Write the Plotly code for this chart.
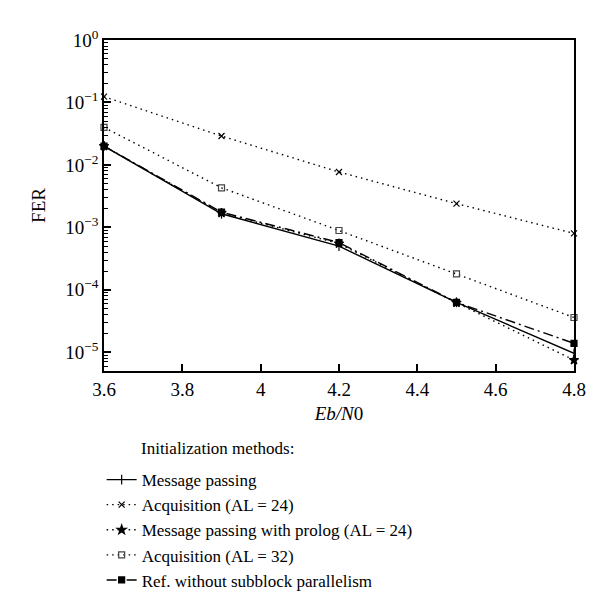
import plotly.graph_objects as go

# Eb/N0 values (dB)
ebn0 = [3.6, 3.9, 4.2, 4.5, 4.8]

# FER per initialization method
fer_msg_passing = [0.020, 1.65e-3, 5.0e-4, 6.3e-5, 9.6e-6]
fer_acq_24 = [0.124, 0.029, 7.7e-3, 2.4e-3, 8.0e-4]
fer_prolog_24 = [0.020, 1.70e-3, 5.5e-4, 6.2e-5, 7.5e-6]
fer_acq_32 = [0.040, 4.3e-3, 8.9e-4, 1.8e-4, 3.6e-5]
fer_ref = [0.020, 1.75e-3, 5.7e-4, 6.3e-5, 1.39e-5]

# tick labels
x_tickvals = [3.6, 3.8, 4.0, 4.2, 4.4, 4.6, 4.8]
x_ticktext = ['3.6', '3.8', '4', '4.2', '4.4', '4.6', '4.8']
y_tickvals = [1e-5, 1e-4, 1e-3, 1e-2, 1e-1, 1]
y_ticktext = ['10<sup>−5</sup>', '10<sup>−4</sup>', '10<sup>−3</sup>',
              '10<sup>−2</sup>', '10<sup>−1</sup>', '10<sup>0</sup>']
y_minor = [k * 10.0 ** e for e in range(-6, 0) for k in range(2, 10)]

FONT = 'Liberation Serif, DejaVu Serif, serif'
DOT = '1.5px,4px'

traces = [
    ('Message passing', fer_msg_passing, 'solid', 'line-ns-open', 7, 'black'),
    ('Acquisition (AL = 24)', fer_acq_24, DOT, 'x-thin-open', 6, 'black'),
    ('Message passing with prolog (AL = 24)', fer_prolog_24, DOT, 'star', 7, 'black'),
    ('Acquisition (AL = 32)', fer_acq_32, DOT, 'square-open', 6, '#444'),
    ('Ref. without subblock parallelism', fer_ref, '10px,4px,2px,4px', 'square', 6, 'black'),
]

fig = go.Figure()
for name, y, dash, symbol, size, mcolor in traces:
    fig.add_trace(go.Scatter(
        x=ebn0, y=y, name=name, mode='lines+markers',
        line=dict(color='black', width=1.4, dash=dash),
        marker=dict(symbol=symbol, size=size, color=mcolor,
                    line=dict(color=mcolor, width=1.2)),
        cliponaxis=False))

fig.update_layout(
    width=600, height=602,
    margin=dict(l=96, r=34, t=32, b=236),
    plot_bgcolor='white', paper_bgcolor='white',
    font=dict(family=FONT, size=17, color='black'),
    showlegend=True,
    legend=dict(x=-0.005, y=-0.275, xanchor='left', yanchor='top',
                font=dict(family=FONT, size=17), tracegroupgap=0,
                bgcolor='rgba(0,0,0,0)'),
    annotations=[dict(text='Initialization methods:', xref='paper', yref='paper',
                      x=0.074, y=-0.2, xanchor='left', yanchor='top',
                      showarrow=False, font=dict(family=FONT, size=17))],
)

fig.update_xaxes(
    range=[3.6, 4.8], tickvals=x_tickvals, ticktext=x_ticktext,
    ticks='inside', ticklen=7, tickwidth=1.5, tickcolor='black', automargin=False,
    showline=True, linecolor='black', linewidth=1.8, mirror=True,
    showgrid=False, zeroline=False,
    title=dict(text='<i>Eb/N</i>0', font=dict(family=FONT, size=19), standoff=8),
    tickfont=dict(family=FONT, size=19))

fig.update_yaxes(
    type='log', range=[-5.3, 0], tickvals=y_tickvals, ticktext=y_ticktext,
    ticks='inside', ticklen=7, tickwidth=1.5, tickcolor='black', automargin=False,
    minor=dict(tickmode='array', tickvals=y_minor, ticks='inside',
               ticklen=4, tickwidth=1.2, tickcolor='black', showgrid=False),
    showline=True, linecolor='black', linewidth=1.8, mirror=True,
    showgrid=False, zeroline=False,
    title=dict(text='FER', font=dict(family=FONT, size=19), standoff=14),
    tickfont=dict(family=FONT, size=19))

fig.write_html('out.html')
